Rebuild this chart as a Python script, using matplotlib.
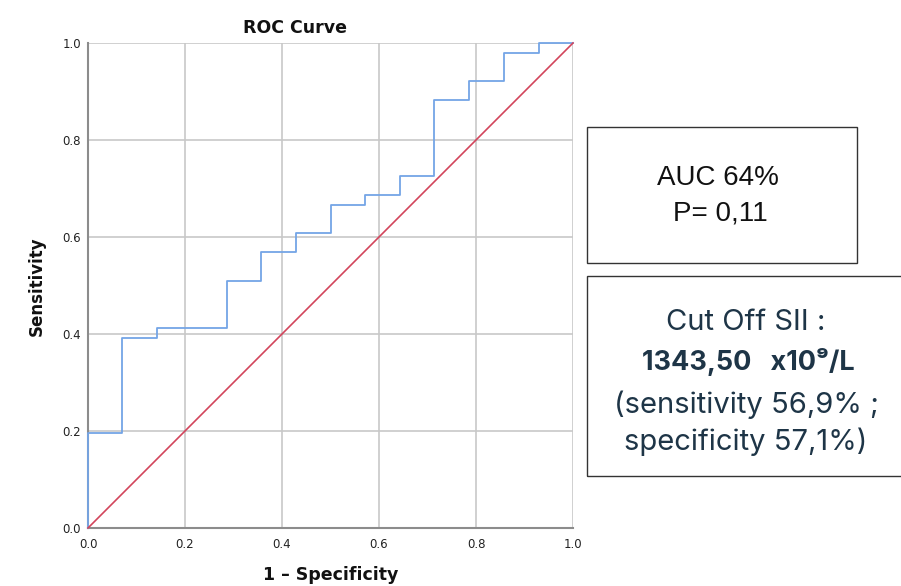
import matplotlib
matplotlib.use("Agg")
import matplotlib.pyplot as plt
from matplotlib.patches import Rectangle

plt.rcParams['font.family'] = ['DejaVu Sans']

# ROC step curve (1 - specificity, sensitivity)
fpr = [0.0, 0.0, 0.071, 0.071, 0.143, 0.143, 0.286, 0.286, 0.357, 0.357, 0.429, 0.429,
       0.5, 0.5, 0.571, 0.571, 0.643, 0.643, 0.714, 0.714, 0.786, 0.786, 0.857, 0.857,
       0.929, 0.929, 1.0]
tpr = [0.0, 0.196, 0.196, 0.392, 0.392, 0.412, 0.412, 0.51, 0.51, 0.569, 0.569, 0.608,
       0.608, 0.667, 0.667, 0.686, 0.686, 0.725, 0.725, 0.882, 0.882, 0.922, 0.922, 0.98,
       0.98, 1.0, 1.0]
ref_line = [0.0, 1.0]
ticks = [0.0, 0.2, 0.4, 0.6, 0.8, 1.0]
tick_labels = ["0.0", "0.2", "0.4", "0.6", "0.8", "1.0"]

W, H = 901, 586
fig = plt.figure(figsize=(W / 100, H / 100), dpi=100)
ax = fig.add_axes([88 / W, (H - 528) / H, (573 - 88) / W, (528 - 43) / H])

ax.plot(fpr, tpr, color='#74a5e6', lw=1.3, zorder=3, clip_on=False)
ax.plot(ref_line, ref_line, color='#d2455c', lw=1.2, zorder=3, clip_on=False)

ax.set_xlim(0, 1)
ax.set_ylim(0, 1)
ax.set_xticks(ticks)
ax.set_yticks(ticks)
ax.set_xticklabels(tick_labels)
ax.set_yticklabels(tick_labels)
ax.tick_params(labelsize=8.5, length=0, colors='#222222')
ax.tick_params(axis='x', pad=7)
ax.tick_params(axis='y', pad=5)
ax.grid(True, color='#c8c8c8', lw=1.2)
ax.set_axisbelow(True)
for s in ['top', 'right']:
    ax.spines[s].set_visible(False)
for s in ['left', 'bottom']:
    ax.spines[s].set_color('#8c8c8c')
    ax.spines[s].set_linewidth(1.5)

def fx(px):
    return px / W
def fy(py):
    return (H - py) / H

fig.text(fx(295), fy(28), "ROC Curve", fontsize=12.5, fontweight='bold', ha='center', va='center',
         color='#111111')
fig.text(fx(331), fy(575), "1 \u2013 Specificity", fontsize=12.5, fontweight='bold', ha='center',
         va='center', color='#111111')
fig.text(fx(37), fy(286), "Sensitivity", fontsize=12, fontweight='bold', ha='center',
         va='center', rotation=90, color='#111111')

# Text boxes
fig.patches.append(Rectangle((fx(587), fy(263)), fx(857) - fx(587), fy(127) - fy(263),
                             transform=fig.transFigure, fill=False, ec='#333333', lw=1.0))
fig.patches.append(Rectangle((fx(587), fy(476)), fx(905) - fx(587), fy(276) - fy(476),
                             transform=fig.transFigure, fill=False, ec='#333333', lw=1.0,
                             clip_on=False))

box1_font = ['Liberation Sans', 'DejaVu Sans']
fig.text(fx(718), fy(178), "AUC 64%", fontsize=20, ha='center', va='center', color='#111111',
         family=box1_font)
fig.text(fx(720), fy(214), "P= 0,11", fontsize=20, ha='center', va='center', color='#111111',
         family=box1_font)

navy = '#1e3547'
box2_font = ['Inter', 'DejaVu Sans']
fig.text(fx(746), fy(323), "Cut Off SII :", fontsize=21, ha='center', va='center', color=navy,
         family=box2_font)
fig.text(fx(748), fy(362), "1343,50   x10\u2079/L", fontsize=19.5, ha='center', va='center',
         color=navy, fontweight='bold', family=box2_font)
fig.text(fx(746), fy(405), "(sensitivity 56,9% ;", fontsize=21, ha='center', va='center',
         color=navy, family=box2_font)
fig.text(fx(746), fy(442), "specificity 57,1%)", fontsize=21, ha='center', va='center',
         color=navy, family=box2_font)

fig.savefig("out.png", dpi=100)
